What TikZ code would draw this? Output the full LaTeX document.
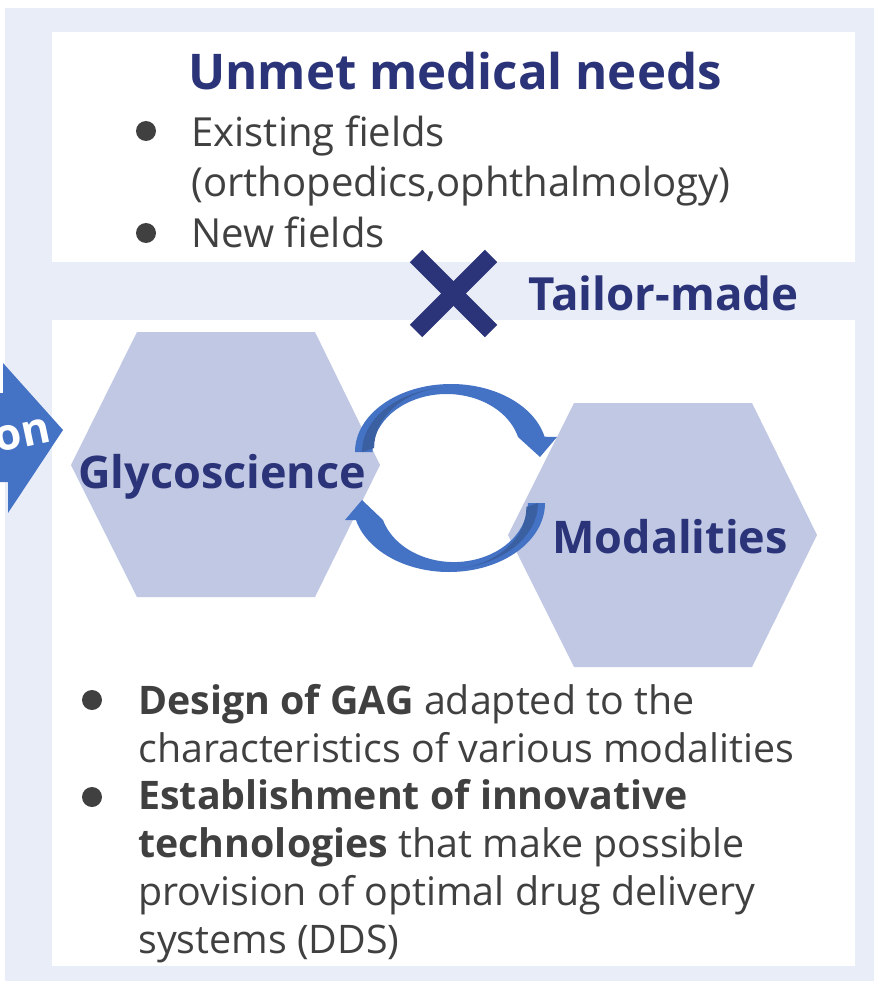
\documentclass[tikz,border=0pt]{standalone}
\usepackage{fontspec}
\setmainfont{Open Sans}
\definecolor{bgblue}{HTML}{E9EDF8}
\definecolor{hexblue}{HTML}{C0C8E4}
\definecolor{navy}{HTML}{2B3479}
\definecolor{cycblue}{HTML}{4472C4}
\definecolor{cycdark}{HTML}{3A60A2}
\definecolor{txtgray}{HTML}{404040}
\tikzset{
  heading/.style={text=navy,inner sep=0pt,font=\bfseries\fontsize{28}{34}\selectfont},
  hexlabel/.style={text=navy,inner sep=0pt,font=\bfseries\fontsize{25.6}{30}\selectfont},
  toptext/.style={text=txtgray,inner sep=0pt,align=left,font=\fontsize{22.8}{28.3}\selectfont},
  bottext/.style={text=txtgray,inner sep=0pt,align=left,font=\fontsize{22.4}{27.3}\selectfont},
  bulletdot/.style={fill=txtgray},
  cyclearrow/.style={fill=cycblue},
  cycshade/.style={fill=cycdark},
}
\begin{document}
\begin{tikzpicture}[x=0.02cm,y=-0.02cm]
    \useasboundingbox (0,0) rectangle (874,983);
    \fill[bgblue] (5,8) rectangle (874,981);
    \fill[white] (52,32) rectangle (855,262);
    \fill[white] (52,320) rectangle (855,966);

    % unmet needs
    \node[heading,anchor=base] (needs) at (455,90) {Unmet medical needs};
    \fill[bulletdot] (146,131) circle (10);
    \node[toptext,anchor=base west] (existing) at (191,196) {Existing fields\\(orthopedics,ophthalmology)};
    \fill[bulletdot] (146,233) circle (10);
    \node[toptext,anchor=base west] (newfields) at (191,247) {New fields};

    % times sign
    \draw[navy,line width=10pt] (416,256) -- (491,331);
    \draw[navy,line width=10pt] (491,256) -- (416,331);
    \node[hexlabel,anchor=base west,font=\bfseries\fontsize{26}{30}\selectfont] (tailor) at (528,310) {Tailor-made};

    % arrow from the left
    \fill[cycblue] (-5,393) -- (3,393) -- (3,363) -- (63,430) -- (8,513) -- (8,482) -- (-5,482) -- cycle;
    \node[text=white,inner sep=0pt,font=\bfseries\fontsize{25}{30}\selectfont,anchor=base east,rotate=12] (arrowtxt) at (53,441) {on};

    % hexagons
    \fill[hexblue] (71,465) -- (137,332) -- (315,332) -- (380,465) -- (315,597) -- (137,597) -- cycle;
    \fill[hexblue] (508,535) -- (574,403) -- (752,403) -- (817,535) -- (752,667) -- (574,667) -- cycle;

    % cycle
    \coordinate (topstart) at (355,452);
    \coordinate (botstart) at (545,503);
    \fill[cyclearrow] (topstart) arc[start angle=180,end angle=347,x radius=96,y radius=68]
        -- (557,437) -- (540,457) -- (518,437)
        arc[start angle=345,end angle=180,x radius=74,y radius=58] -- cycle;
    \fill[cycshade] ([xshift=4]topstart) arc[start angle=180,end angle=262,x radius=92,y radius=65]
        arc[start angle=262,end angle=180,x radius=78,y radius=61] -- cycle;
    \fill[cyclearrow] (botstart) arc[start angle=0,end angle=165.7,x radius=96,y radius=69]
        -- (345,520) -- (362,500) -- (383,520)
        arc[start angle=163.3,end angle=0,x radius=74,y radius=59] -- cycle;
    \fill[cycshade] ([xshift=-4]botstart) arc[start angle=0,end angle=80,x radius=92,y radius=66]
        arc[start angle=80,end angle=0,x radius=78,y radius=62] -- cycle;

    \node[hexlabel,anchor=base west] (glyco) at (78,488) {Glycoscience};
    \node[hexlabel,anchor=base west] (modal) at (552,553) {Modalities};

    % approaches
    \fill[bulletdot] (92,700) circle (10);
    \node[bottext,anchor=base west] (gag) at (138,762) {\textbf{Design of GAG} adapted to the\\characteristics of various modalities};
    \fill[bulletdot] (92,797) circle (10);
    \node[bottext,anchor=base west] (dds) at (138,953) {\textbf{Establishment of innovative}\\\textbf{technologies} that make possible\\provision of optimal drug delivery\\systems (DDS)};
\end{tikzpicture}
\end{document}
